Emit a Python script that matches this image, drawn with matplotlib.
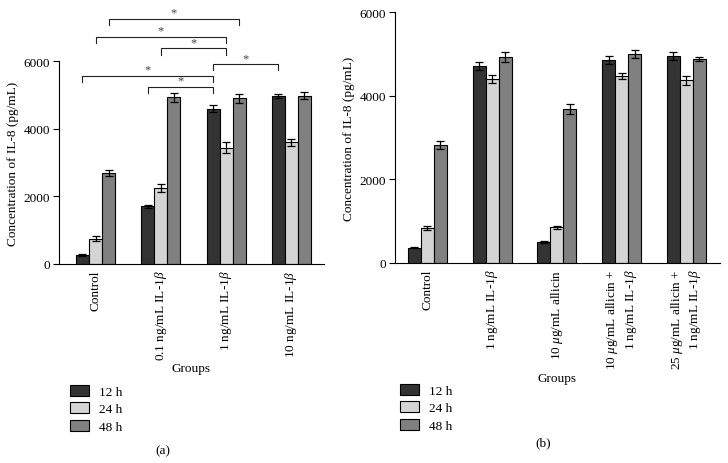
import numpy as np
import matplotlib
matplotlib.use("Agg")
import matplotlib.pyplot as plt
from matplotlib.patches import Patch

plt.rcParams['font.family'] = ['Liberation Serif', 'DejaVu Serif']
plt.rcParams['mathtext.fontset'] = 'custom'
plt.rcParams['mathtext.rm'] = 'Liberation Serif'
plt.rcParams['mathtext.it'] = 'Liberation Serif:italic'
plt.rcParams['font.size'] = 9.5

### data
series = ['12 h', '24 h', '48 h']
colors = ['#333333', '#d4d4d4', '#808080']

groups_a = ['Control', '0.1 ng/mL IL-1$\\beta$', '1 ng/mL IL-1$\\beta$', '10 ng/mL IL-1$\\beta$']
mean_a = np.array([[255, 1700, 4590, 4970],
                   [750, 2250, 3440, 3600],
                   [2680, 4930, 4900, 4980]])
err_a = np.array([[30, 40, 100, 50],
                  [70, 120, 160, 100],
                  [90, 130, 130, 110]])
# significance: (group, series) -> (group, series), height
sig_a = [((0, 2), (2, 2), 7250),
         ((0, 1), (2, 1), 6710),
         ((1, 1), (2, 1), 6370),
         ((2, 0), (3, 0), 5900),
         ((0, 0), (2, 0), 5560),
         ((1, 0), (2, 0), 5230)]

groups_b = ['Control', '1 ng/mL IL-1$\\beta$', '10 $\\mu$g/mL allicin',
            '10 $\\mu$g/mL allicin +\n1 ng/mL IL-1$\\beta$',
            '25 $\\mu$g/mL allicin +\n1 ng/mL IL-1$\\beta$']
mean_b = np.array([[370, 4700, 495, 4860, 4950],
                   [840, 4400, 855, 4470, 4370],
                   [2820, 4920, 3690, 4990, 4870]])
err_b = np.array([[20, 95, 20, 100, 90],
                  [50, 105, 40, 80, 110],
                  [90, 120, 120, 90, 50]])

W, H = 728, 464
fig = plt.figure(figsize=(W / 100, H / 100), dpi=100)


def px_axes(l, t, r, b):
    return fig.add_axes([l / W, 1 - b / H, (r - l) / W, (b - t) / H])


def draw_bars(ax, groups, mean, err, xlim):
    x = np.arange(len(groups))
    bw = 0.2
    for i in range(len(series)):
        ax.bar(x + (i - 1) * bw, mean[i], bw, color=colors[i], edgecolor='black',
               linewidth=0.8, yerr=err[i], capsize=3,
               error_kw=dict(elinewidth=0.9, capthick=0.9, ecolor='black'))
    ax.set_xlim(*xlim)
    ax.set_ylim(0, 6000)
    ax.set_yticks([0, 2000, 4000, 6000])
    ax.set_xticks(x)
    ax.set_xticklabels(groups, rotation=90, va='top', ha='center', multialignment='right')
    ax.tick_params(axis='x', length=0, pad=4)
    ax.tick_params(axis='y', length=4, width=0.8, direction='out', pad=2.5)
    for s in ['top', 'right']:
        ax.spines[s].set_visible(False)
    for s in ['left', 'bottom']:
        ax.spines[s].set_linewidth(0.8)
    ax.set_ylabel('Concentration of IL-8 (pg/mL)', labelpad=3)
    return x, bw


ax1 = px_axes(59, 62, 324, 265)
x, bw = draw_bars(ax1, groups_a, mean_a, err_a, (-0.56, 3.5))
ax1.set_xlabel('Groups', labelpad=1)

for (g1, s1), (g2, s2), h in sig_a:
    x1 = x[g1] + (s1 - 1) * bw
    x2 = x[g2] + (s2 - 1) * bw
    ax1.plot([x1, x1, x2, x2], [h - 180, h, h, h - 180], color='#222222',
             lw=0.8, clip_on=False)
    ax1.text((x1 + x2) / 2, h + 10, '*', ha='center', va='bottom', fontsize=9,
             color='#444444')

ax2 = px_axes(395, 13, 720, 264)
draw_bars(ax2, groups_b, mean_b, err_b, (-0.5, 4.52))
ax2.set_xlabel('Groups', labelpad=2)

handles = [Patch(facecolor=c, edgecolor='black', linewidth=0.8) for c in colors]
for ax, lx, ly in [(ax1, 63, 379), (ax2, 393, 378)]:
    ax.legend(handles, series, loc='upper left', bbox_to_anchor=(lx / W, 1 - ly / H),
              bbox_transform=fig.transFigure, frameon=False, borderpad=0,
              handlelength=1.5, handleheight=0.9, labelspacing=0.35, handletextpad=0.7)

fig.text(163 / W, 1 - 451 / H, '(a)', ha='center', va='center')
fig.text(543 / W, 1 - 443 / H, '(b)', ha='center', va='center')

fig.savefig('out.png', dpi=100)
